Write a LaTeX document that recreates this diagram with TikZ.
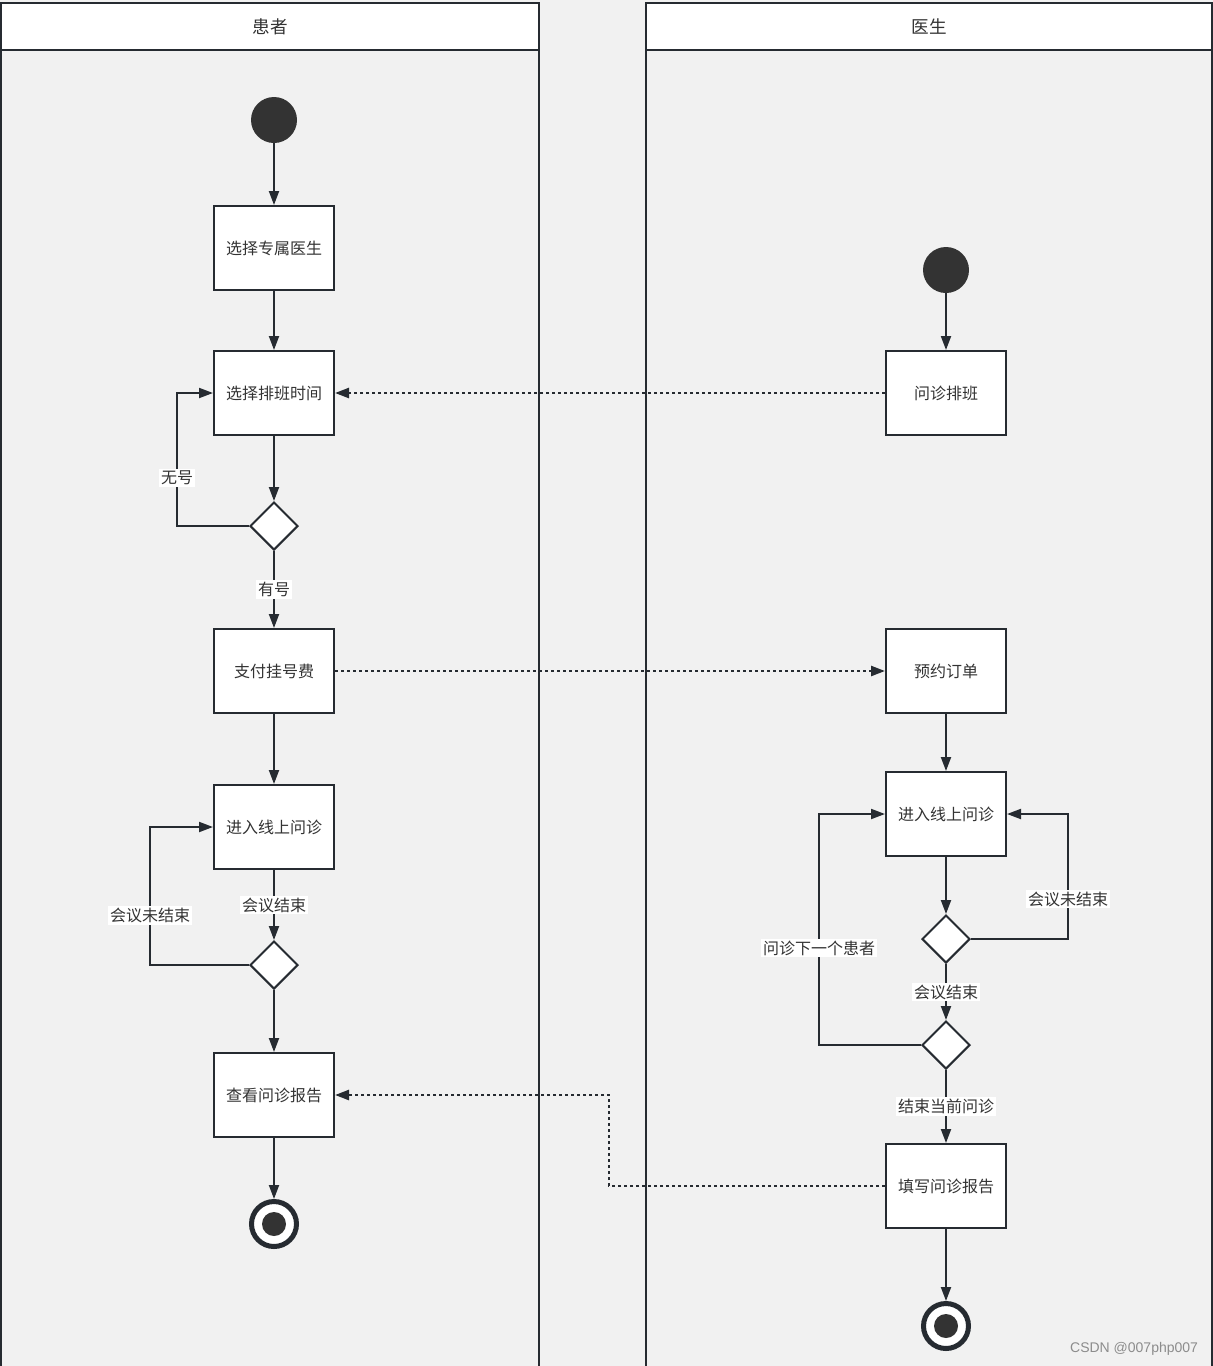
\documentclass[tikz,border=0pt]{standalone}
\usepackage{fontspec}
\setmainfont{Noto Sans CJK SC}
\newfontfamily\wmfont{Liberation Sans}
\usetikzlibrary{positioning,shapes.geometric,arrows.meta}
\tikzset{hdpx/.style={x=0.5pt,y=-0.5pt,every node/.style={inner sep=0pt,outer sep=0pt,anchor=center,align=center}}}
\definecolor{hdline}{HTML}{262B31}
\definecolor{hdfill}{HTML}{333333}
\definecolor{hdbg}{HTML}{F1F1F1}
\definecolor{hdtext}{HTML}{333333}
\tikzset{
  raia/.style={draw=hdline,line width=1pt},
  cab/.style={draw=hdline,line width=1pt,fill=white,text=hdtext,font=\fontsize{8.8}{10}\selectfont,minimum height=23.5pt},
  acao/.style={draw=hdline,line width=1pt,fill=white,text=hdtext,font=\fontsize{8}{10}\selectfont,
    minimum width=60pt,minimum height=42pt,outer sep=0.5pt},
  escolha/.style={diamond,aspect=1,draw=hdline,line width=1pt,fill=white,minimum width=24pt,minimum height=24pt,outer sep=0.5pt},
  inicio/.style={circle,fill=hdfill,minimum size=23pt},
  fim/.style={circle,draw=hdline,line width=2.5pt,fill=white,minimum size=22.5pt,outer sep=1.25pt},
  nucleo/.style={circle,fill=hdfill,minimum size=12pt},
}

\begin{document}
\begin{tikzpicture}[hdpx,
  seta/.style={-{Triangle[length=7pt,width=5pt]},line width=1pt,hdline},
  pont/.style={-{Triangle[length=7pt,width=5pt]},line width=1.2pt,hdline,dash pattern=on 1.4pt off 1.6pt},
  rot/.style={fill=white,inner sep=1pt,text=hdtext,font=\fontsize{8}{9}\selectfont}]
  \useasboundingbox (0,0) rectangle (1213,1366);
  \fill[hdbg] (0,0) rectangle (1213,1366);
  \draw[raia] (1,3) rectangle (539,1372);
  \draw[raia] (646,3) rectangle (1212,1372);
  \node[cab,minimum width=269pt] (hpac) at (270,26.5) {患者};
  \node[cab,minimum width=283pt] (hmed) at (929,26.5) {医生};
  \node[inicio] (p0) at (274,120) {};
  \node[acao] (p1) at (274,248) {选择专属医生};
  \node[acao] (p2) at (274,393) {选择排班时间};
  \node[escolha] (p3) at (274,526) {};
  \node[acao] (p4) at (274,671) {支付挂号费};
  \node[acao] (p5) at (274,827) {进入线上问诊};
  \node[escolha] (p6) at (274,965) {};
  \node[acao] (p7) at (274,1095) {查看问诊报告};
  \node[fim] (p8) at (274,1224) {};
  \node[nucleo] (p8n) at (p8) {};
  \node[inicio] (m0) at (946,270) {};
  \node[acao] (m1) at (946,393) {问诊排班};
  \node[acao] (m2) at (946,671) {预约订单};
  \node[acao] (m3) at (946,814) {进入线上问诊};
  \node[escolha] (m4) at (946,939) {};
  \node[escolha] (m5) at (946,1045) {};
  \node[acao] (m6) at (946,1186) {填写问诊报告};
  \node[fim] (m7) at (946,1326) {};
  \node[nucleo] (m7n) at (m7) {};
  \foreach \a/\b in {p0/p1,p1/p2,p2/p3,p4/p5,p6/p7,p7/p8,m0/m1,m2/m3,m3/m4,m6/m7} \draw[seta] (\a) -- (\b);
  \draw[seta] (p3) -- node[rot]{有号} (p4);
  \draw[seta] (p5) -- node[rot]{会议结束} (p6);
  \draw[seta] (m4) -- node[rot]{会议结束} (m5);
  \draw[seta] (m5) -- node[rot]{结束当前问诊} (m6);
  \draw[seta] (p3.west) -- ++(-72,0) |- node[rot,pos=0.18]{无号} (p2.west);
  \draw[seta] (p6.west) -- ++(-99,0) |- node[rot,pos=0.18]{会议未结束} (p5.west);
  \draw[seta] (m4.east) -- ++(97,0) |- node[rot,pos=0.16]{会议未结束} (m3.east);
  \draw[seta] (m5.west) -- ++(-102,0) |- node[rot,pos=0.21]{问诊下一个患者} (m3.west);
  \draw[pont] (m1) -- (p2);
  \draw[pont] (p4) -- (m2);
  \draw[pont] (m6.west) -- ++(-276,0) |- (p7.east);
  \node[text=black!45,font=\wmfont\fontsize{7}{8}\selectfont,anchor=east] (marca) at (1198,1349) {CSDN @007php007};
\end{tikzpicture}
\end{document}
